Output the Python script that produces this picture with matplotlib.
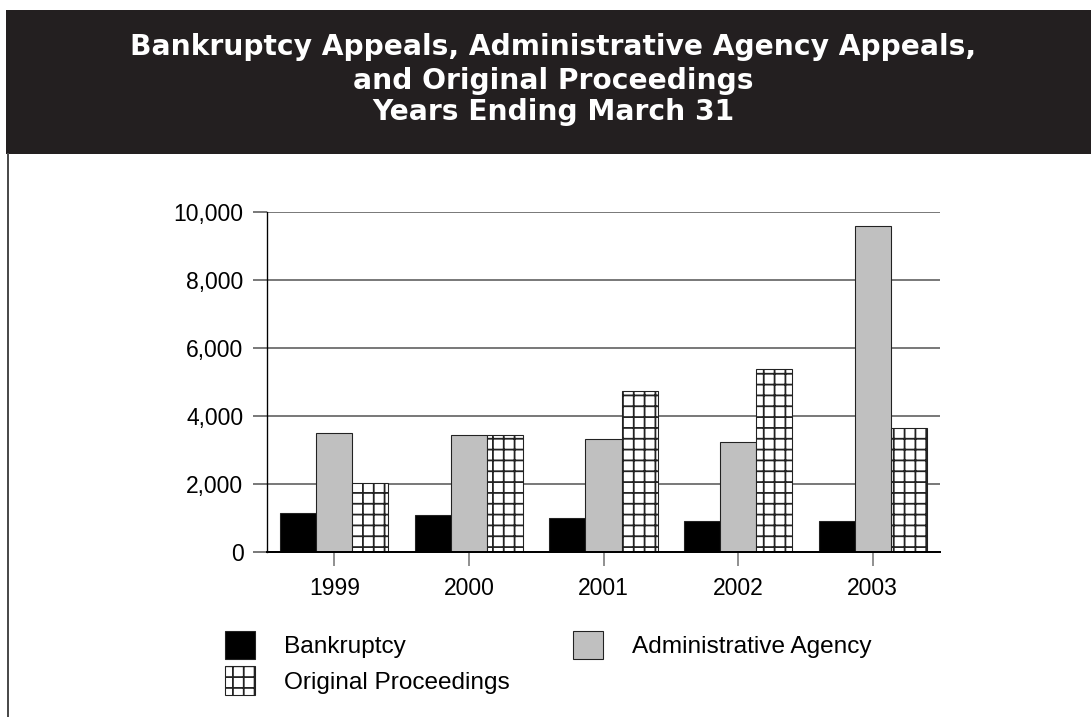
import matplotlib
matplotlib.use("Agg")
import matplotlib.pyplot as plt
import numpy as np
from matplotlib.patches import Rectangle
from matplotlib.lines import Line2D
from matplotlib.ticker import FuncFormatter

# --- Data ---
years = ["1999", "2000", "2001", "2002", "2003"]
bankruptcy = [1150, 1080, 990, 900, 900]
admin_agency = [3490, 3430, 3330, 3230, 9590]
original_proc = [2020, 3450, 4740, 5380, 3660]

title_lines = [
    "Bankruptcy Appeals, Administrative Agency Appeals,",
    "and Original Proceedings",
    "Years Ending March 31",
]

plt.rcParams['hatch.linewidth'] = 1.0
plt.rcParams['font.family'] = ['Liberation Sans', 'DejaVu Sans']

DPI = 130
W, H = 1091, 717
fig = plt.figure(figsize=(W / DPI, H / DPI), dpi=DPI)

# --- Header band and left border ---
fig.patches.append(Rectangle((6 / W, 1 - 154 / H), 1, 144 / H,
                             transform=fig.transFigure, facecolor='#231f20',
                             edgecolor='none', zorder=0))
fig.lines.append(Line2D([7.5 / W, 7.5 / W], [0, 1 - 154 / H],
                        transform=fig.transFigure, color='#4a4a4a', lw=1.1))

for line, base in zip(title_lines, [55, 89, 120]):
    fig.text(553 / W, 1 - base / H, line, ha='center', va='baseline',
             color='white', fontsize=15.6, fontweight='bold',
             family='DejaVu Sans')

# --- Bars ---
ax = fig.add_axes([267 / W, 1 - 552 / H, 673 / W, 340 / H])
x = np.arange(len(years))
bw = 0.2675
edge = dict(edgecolor='#222222', linewidth=0.6)
b1 = ax.bar(x - bw, bankruptcy, bw, color='black', label='Bankruptcy', **edge)
b2 = ax.bar(x, admin_agency, bw, color='#c0c0c0', label='Administrative Agency', **edge)
b3 = ax.bar(x + bw, original_proc, bw, color='white', hatch='++',
            label='Original Proceedings', **edge)

ax.set_xlim(-0.5, 4.5)
ax.set_ylim(0, 10000)
ax.set_xticks(x)
ax.set_xticklabels(years)
ax.set_yticks(np.arange(0, 10001, 2000))
ax.yaxis.set_major_formatter(FuncFormatter(lambda v, p: f"{int(v):,}"))

ax.set_axisbelow(True)
ax.yaxis.grid(True, color='#7a7a7a', linewidth=1.1)
for s in ['top', 'right']:
    ax.spines[s].set_visible(False)
ax.spines['left'].set_linewidth(0.75)
ax.spines['bottom'].set_linewidth(1.1)

ax.tick_params(axis='y', length=7.75, width=1.1, color='#7a7a7a',
               labelsize=12.7, pad=5.3)
ax.tick_params(axis='x', length=7.75, width=0.9, color='#7a7a7a',
               labelsize=12.7, pad=5.9)
ax.yaxis.get_major_ticks()[0].tick1line.set_color('black')

# --- Legend ---
fig.legend([b1, b3, b2],
           ['Bankruptcy', 'Original Proceedings', 'Administrative Agency'],
           ncol=2, loc='upper left', bbox_to_anchor=(225 / W, 1 - 631 / H),
           frameon=False, fontsize=13.5, borderpad=0, borderaxespad=0,
           handlelength=1.23, handleheight=1.4, handletextpad=1.17,
           labelspacing=0.3, columnspacing=2.62)

fig.savefig('out.png', dpi=DPI)
